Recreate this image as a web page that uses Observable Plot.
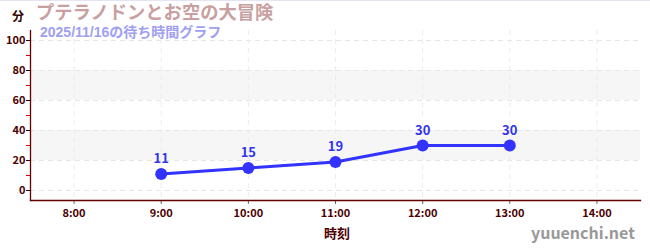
<!DOCTYPE html>
<html><head><meta charset="utf-8">
<script src="https://cdn.jsdelivr.net/npm/d3@7"></script>
<script src="https://cdn.jsdelivr.net/npm/@observablehq/plot@0.6"></script>
<style>
body{margin:0;background:#fff;font-family:"Noto Sans CJK JP","Noto Sans",sans-serif;}
#wrap{position:relative;width:650px;height:250px;}
#wrap::before{content:"";position:absolute;left:0;top:0;width:650px;height:1px;background:#e4e4f4;}
.t{position:absolute;white-space:nowrap;font-weight:bold;line-height:1;}
</style></head>
<body><div id="wrap">
<div class="t" style="left:12px;top:10px;font-size:12px;color:#330000">分</div>
<div class="t" style="left:36px;top:4px;font-size:18.3px;color:#c9a0a0;font-family:'Liberation Sans','Noto Sans CJK JP',sans-serif">プテラノドンとお空の大冒険</div>
<div class="t" style="left:40px;top:25px;font-size:14px;color:#a0a0f0;font-family:'Liberation Sans','Noto Sans CJK JP',sans-serif">2025/11/16の待ち時間グラフ</div>
<div class="t" style="left:324px;top:226px;font-size:13px;color:#4d0000">時刻</div>
<div class="t" style="left:531px;top:224px;font-size:16px;color:#999">yuuenchi.net</div>
</div>
<script>
const hours = [9, 10, 11, 12, 13];
const waits = [11, 15, 19, 30, 30];
const xTicks = [8, 9, 10, 11, 12, 13, 14];
const yTicks = [0, 20, 40, 60, 80, 100];
const yMinor = [10, 30, 50, 70, 90];
const bands = [[20, 40], [60, 80]];

const data = hours.map((h, i) => ({h, w: waits[i]}));
const axisColor = "#660000";
const labColor = "#4d0000";

const chart = Plot.plot({
  width: 650, height: 250,
  marginTop: 30, marginBottom: 50, marginLeft: 30, marginRight: 10,
  style: {fontFamily: '"Noto Sans CJK JP","Noto Sans",sans-serif', background: "transparent"},
  x: {type: "linear", domain: [7.5, 14.5], axis: null},
  y: {type: "linear", domain: [-6.67, 106.67], axis: null},
  marks: [
    Plot.rect(bands, {x1: () => 7.5, x2: () => 14.5, y1: d => d[0], y2: d => d[1], fill: "#f6f6f6"}),
    Plot.ruleY(yTicks, {stroke: "#e6e6e6", strokeDasharray: "5,4"}),
    Plot.ruleX(xTicks, {stroke: "#ececec", strokeDasharray: "5,4"}),
    Plot.axisY({ticks: yMinor, tickSize: 4, tickFormat: () => "", stroke: "#dd0000", label: null}),
    Plot.axisY({ticks: yTicks, tickSize: 4, stroke: "#330000", color: labColor, fontSize: 11, fontWeight: "bold", tickPadding: 1, label: null}),
    Plot.axisX({ticks: xTicks, tickSize: 4, tickFormat: d => d + ":00", stroke: "#666", color: labColor, fontSize: 11, fontWeight: "bold", label: null, anchor: "bottom"}),
    Plot.frame({anchor: "left", stroke: axisColor, strokeWidth: 1.3}),
    Plot.frame({anchor: "bottom", stroke: axisColor, strokeWidth: 1.3}),
    Plot.line(data, {x: "h", y: "w", stroke: "#3333ff", strokeWidth: 3.2}),
    Plot.dot(data, {x: "h", y: "w", r: 6, fill: "#3333ff"}),
    Plot.text(data, {x: "h", y: "w", text: d => String(d.w), dy: -15, fill: "#3333ee", fontSize: 13, fontWeight: "bold"})
  ]
});
chart.style.position = "absolute";
chart.style.left = "0";
chart.style.top = "0";
document.getElementById("wrap").prepend(chart);
</script>
</body></html>
